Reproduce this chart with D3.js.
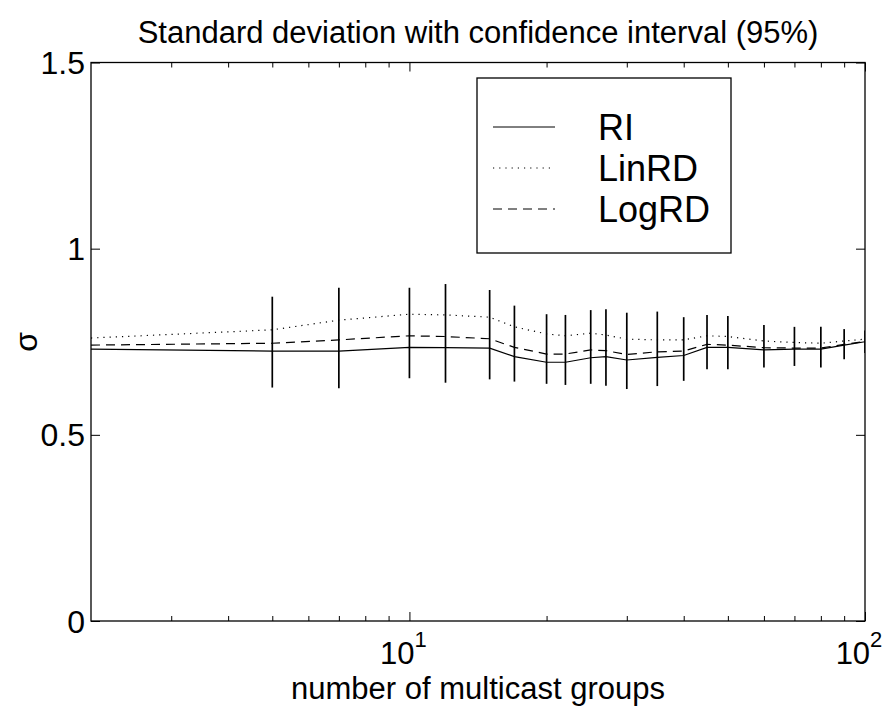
<!DOCTYPE html>
<html>
<head>
<meta charset="utf-8">
<script src="https://cdn.jsdelivr.net/npm/d3@7"></script>
<style>
  body { margin: 0; background: #fff; }
  text { font-family: "Liberation Sans", Arial, Helvetica, sans-serif; fill: #000; }
</style>
</head>
<body>
<div id="chart"></div>
<script>
// data
var groups = [2, 5, 7, 10, 12, 15, 17, 20, 22, 25, 27, 30, 35, 40, 45, 50, 60, 70, 80, 90, 100];
var ri    = [0.730, 0.725, 0.725, 0.735, 0.734, 0.733, 0.710, 0.695, 0.695, 0.707, 0.710, 0.701, 0.708, 0.713, 0.735, 0.735, 0.728, 0.730, 0.730, 0.741, 0.750];
var linrd = [0.760, 0.782, 0.808, 0.824, 0.822, 0.816, 0.790, 0.771, 0.766, 0.773, 0.768, 0.757, 0.755, 0.755, 0.766, 0.764, 0.752, 0.748, 0.746, 0.752, 0.757];
var logrd = [0.741, 0.746, 0.755, 0.766, 0.764, 0.758, 0.735, 0.717, 0.717, 0.728, 0.726, 0.716, 0.723, 0.725, 0.743, 0.741, 0.734, 0.733, 0.733, 0.743, 0.751];
// confidence interval extent at each x (union of the drawn bars)
var ciHigh = [null, 0.871, 0.895, 0.895, 0.905, 0.889, 0.847, 0.824, 0.822, 0.835, 0.837, 0.828, 0.831, 0.816, 0.822, 0.819, 0.795, 0.790, 0.790, 0.784, 0.780];
var ciLow  = [null, 0.627, 0.625, 0.652, 0.640, 0.649, 0.643, 0.637, 0.634, 0.637, 0.632, 0.623, 0.631, 0.645, 0.676, 0.676, 0.681, 0.685, 0.681, 0.703, 0.720];
var yTicks = [0, 0.5, 1, 1.5];
var yTickLabels = ["0", "0.5", "1", "1.5"];
var xTicks = [10, 100];
var xTickExp = ["1", "2"];
var seriesNames = ["RI", "LinRD", "LogRD"];

var svgWidth = 892;
var svgHeight = 707;

var margin = { top: 62.5, right: 27, bottom: 86, left: 91 };
var width = svgWidth - margin.left - margin.right;
var height = svgHeight - margin.top - margin.bottom;

var svg = d3.select("#chart")
  .append("svg")
  .attr("width", svgWidth)
  .attr("height", svgHeight);

var chartGroup = svg.append("g")
  .attr("transform", `translate(${margin.left}, ${margin.top})`);

var xScale = d3.scaleLog()
  .domain([2, 100])
  .range([0, width]);

var yScale = d3.scaleLinear()
  .domain([0, 1.5])
  .range([height, 0]);

chartGroup.append("clipPath")
  .attr("id", "plotclip")
  .append("rect")
  .attr("width", width)
  .attr("height", height);

// series lines
var styles = [
  { values: ri, dash: null },
  { values: linrd, dash: "1.2,5" },
  { values: logrd, dash: "9,6" }
];

var line = d3.line()
  .x(d => xScale(d[0]))
  .y(d => yScale(d[1]));

var plot = chartGroup.append("g").attr("clip-path", "url(#plotclip)");

styles.forEach(function(s) {
  plot.append("path")
    .datum(groups.map((g, i) => [g, s.values[i]]))
    .attr("d", line)
    .attr("fill", "none")
    .attr("stroke", "#000")
    .attr("stroke-width", 1.2)
    .attr("stroke-dasharray", s.dash);
});

// confidence interval bars
var bars = groups.map((g, i) => ({ x: g, lo: ciLow[i], hi: ciHigh[i] }))
  .filter(d => d.lo !== null);

plot.selectAll(".ci")
  .data(bars)
  .enter()
  .append("line")
  .attr("class", "ci")
  .attr("x1", d => xScale(d.x))
  .attr("x2", d => xScale(d.x))
  .attr("y1", d => yScale(d.lo))
  .attr("y2", d => yScale(d.hi))
  .attr("stroke", "#000")
  .attr("stroke-width", 1.7);

// frame
chartGroup.append("rect")
  .attr("width", width)
  .attr("height", height)
  .attr("fill", "none")
  .attr("stroke", "#000")
  .attr("stroke-width", 1.3);

// x ticks (inward, on bottom and top)
var minor = [];
[1, 10].forEach(function(dec) {
  for (var k = 2; k <= 9; k++) {
    var v = k * dec;
    if (v > 2 && v < 100 && v !== 10) minor.push(v);
  }
});

var bottomAxis = d3.axisBottom(xScale).tickValues(xTicks).tickSizeInner(-9).tickSizeOuter(0).tickFormat("");
var bottomMinor = d3.axisBottom(xScale).tickValues(minor).tickSizeInner(-5).tickSizeOuter(0).tickFormat("");
var topAxis = d3.axisTop(xScale).tickValues(xTicks).tickSizeInner(-9).tickSizeOuter(0).tickFormat("");
var topMinor = d3.axisTop(xScale).tickValues(minor).tickSizeInner(-5).tickSizeOuter(0).tickFormat("");

[[bottomAxis, height], [bottomMinor, height], [topAxis, 0], [topMinor, 0]].forEach(function(a) {
  var g = chartGroup.append("g")
    .attr("transform", `translate(0, ${a[1]})`)
    .call(a[0]);
  g.select(".domain").remove();
  g.selectAll("line").attr("stroke", "#000").attr("stroke-width", 1);
});

// y ticks (inward, on left and right)
var leftAxis = d3.axisLeft(yScale).tickValues(yTicks).tickSizeInner(-9).tickSizeOuter(0).tickFormat("");
var rightAxis = d3.axisRight(yScale).tickValues(yTicks).tickSizeInner(-9).tickSizeOuter(0).tickFormat("");
[[leftAxis, 0], [rightAxis, width]].forEach(function(a) {
  var g = chartGroup.append("g")
    .attr("transform", `translate(${a[1]}, 0)`)
    .call(a[0]);
  g.select(".domain").remove();
  g.selectAll("line").attr("stroke", "#000").attr("stroke-width", 1);
});

// tick labels
chartGroup.selectAll(".ylabel")
  .data(yTicks)
  .enter()
  .append("text")
  .attr("class", "ylabel")
  .attr("x", -6)
  .attr("y", d => yScale(d))
  .attr("dy", "0.36em")
  .attr("text-anchor", "end")
  .attr("font-size", 32)
  .text((d, i) => yTickLabels[i]);

var xl = chartGroup.selectAll(".xlabel")
  .data(xTicks)
  .enter()
  .append("text")
  .attr("class", "xlabel")
  .attr("x", d => xScale(d) - 6)
  .attr("y", height + 43)
  .attr("text-anchor", "middle")
  .attr("font-size", 31);
xl.append("tspan").text("10");
xl.append("tspan")
  .attr("dy", -17)
  .attr("font-size", 22)
  .text((d, i) => xTickExp[i]);

// axis labels and title
chartGroup.append("text")
  .attr("transform", `translate(${width / 2}, ${height + 78})`)
  .attr("text-anchor", "middle")
  .attr("font-size", 31)
  .text("number of multicast groups");

chartGroup.append("text")
  .attr("transform", `translate(-54, ${height / 2}) rotate(-90)`)
  .attr("text-anchor", "middle")
  .attr("font-size", 32)
  .text("σ");

chartGroup.append("text")
  .attr("transform", `translate(${width / 2}, -20)`)
  .attr("text-anchor", "middle")
  .attr("font-size", 31)
  .text("Standard deviation with confidence interval (95%)");

// legend
var legend = svg.append("g").attr("transform", "translate(477, 78)");
legend.append("rect")
  .attr("width", 254)
  .attr("height", 175)
  .attr("fill", "#fff")
  .attr("stroke", "#000")
  .attr("stroke-width", 1.3);

var rows = legend.selectAll(".row")
  .data(seriesNames)
  .enter()
  .append("g")
  .attr("class", "row")
  .attr("transform", (d, i) => `translate(0, ${49 + i * 41})`);

rows.append("line")
  .attr("x1", 16)
  .attr("x2", 78)
  .attr("stroke", "#000")
  .attr("stroke-width", 1)
  .attr("stroke-dasharray", (d, i) => styles[i].dash);

rows.append("text")
  .attr("x", 121)
  .attr("dy", "0.36em")
  .attr("font-size", 36)
  .text(d => d);
</script>
</body>
</html>
